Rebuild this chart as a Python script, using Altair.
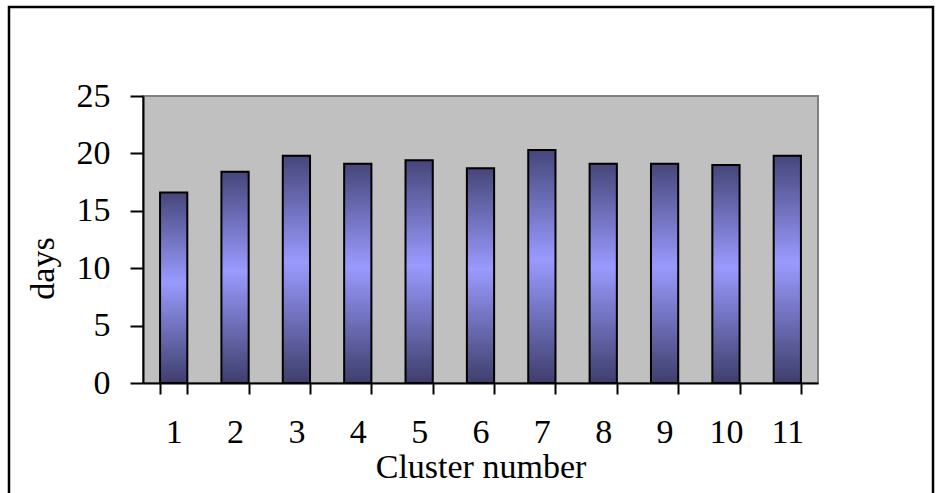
import altair as alt
import pandas as pd

# Mean duration per cluster
clusters = ["1", "2", "3", "4", "5", "6", "7", "8", "9", "10", "11"]
days = [16.6, 18.4, 19.8, 19.1, 19.4, 18.7, 20.3, 19.1, 19.1, 19.0, 19.8]

df = pd.DataFrame({"cluster": clusters, "days": days})

FONT = "Liberation Serif"
SIZE = 34

bar_fill = alt.Gradient(
    gradient="linear",
    x1=0, y1=0, x2=0, y2=1,
    stops=[
        alt.GradientStop(color="#46467a", offset=0),
        alt.GradientStop(color="#9a9aff", offset=0.47),
        alt.GradientStop(color="#3e3e6c", offset=1),
    ],
)

bars = alt.Chart(df).mark_bar(
    fill=bar_fill, stroke="#000000", strokeWidth=2
).encode(
    x=alt.X(
        "cluster:N",
        sort=clusters,
        scale=alt.Scale(paddingInner=0.556, paddingOuter=0.278),
        axis=alt.Axis(
            title="Cluster number",
            labelAngle=0,
            tickBand="extent",
            tickSize=11,
            tickWidth=2,
            tickColor="#000000",
            domainColor="#000000",
            domainWidth=2,
            labelFont=FONT,
            labelFontSize=SIZE,
            labelColor="#000000",
            labelBaseline="alphabetic",
            labelPadding=48,
            titleFont=FONT,
            titleFontSize=SIZE,
            titleFontWeight="normal",
            titleColor="#000000",
            titleBaseline="alphabetic",
            titleX=337.5,
            titleY=94,
        ),
    ),
    y=alt.Y(
        "days:Q",
        scale=alt.Scale(domain=[0, 25], nice=False),
        axis=alt.Axis(
            title="days",
            values=[0, 5, 10, 15, 20, 25],
            grid=False,
            tickSize=13,
            tickWidth=2,
            tickColor="#000000",
            domainColor="#000000",
            domainWidth=2,
            labelFont=FONT,
            labelFontSize=SIZE,
            labelColor="#000000",
            labelPadding=20,
            titleFont=FONT,
            titleFontSize=SIZE,
            titleFontWeight="normal",
            titleColor="#000000",
            titleAngle=-90,
            titleAlign="center",
            titleBaseline="alphabetic",
            titleX=-90,
            titleY=172,
        ),
    ),
)

# Outer frame around the whole figure
frame = alt.Chart(alt.Data(values=[{}])).mark_rect(
    fill="transparent", stroke="#000000", strokeWidth=2.5
).encode(
    x=alt.value(-134),
    x2=alt.value(790),
    y=alt.value(-89),
    y2=alt.value(420),
)

chart = alt.layer(bars, frame).properties(
    width=675,
    height=287,
    autosize=alt.AutoSizeParams(type="none"),
    padding={"left": 143, "top": 96, "right": 124, "bottom": 110},
    background="#ffffff",
).configure_view(
    fill="#c0c0c0",
    stroke="#808080",
    strokeWidth=2,
)

chart.save("out.html", embed_options={"renderer": "svg", "actions": False})
